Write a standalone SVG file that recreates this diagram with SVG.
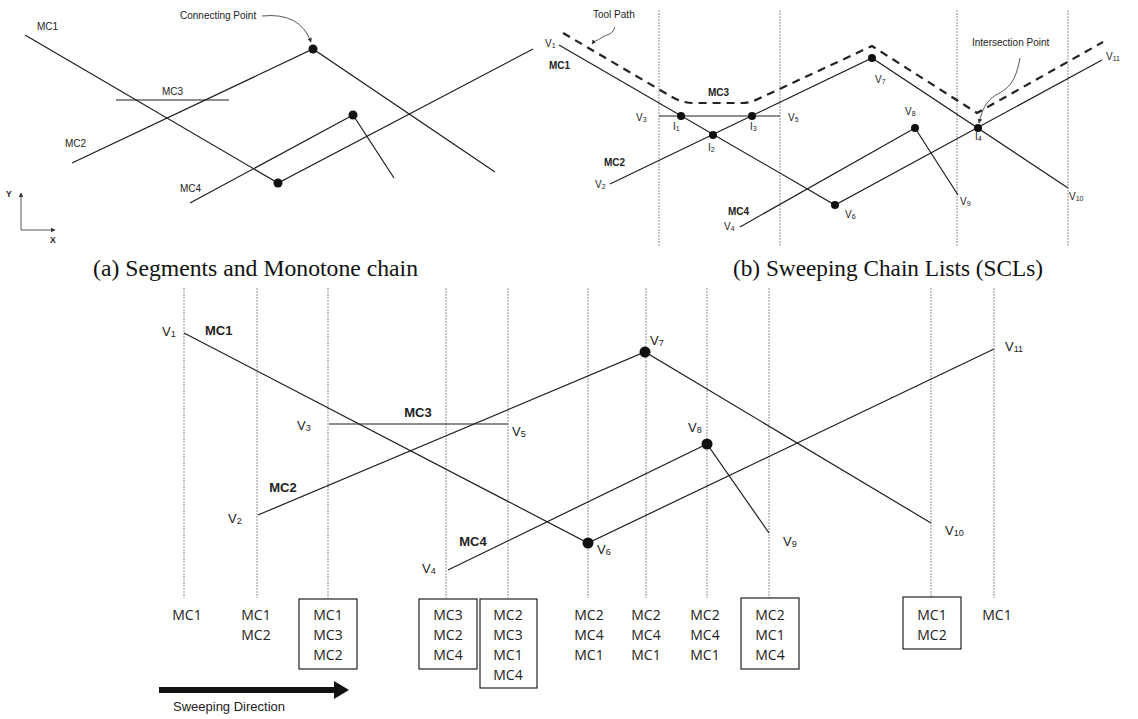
<svg xmlns="http://www.w3.org/2000/svg" width="1138" height="719" viewBox="0 0 1138 719">
<style>
.ln{stroke:#1e1e1e;stroke-width:1.2;fill:none}
.sw{stroke:#9a9a9a;stroke-width:1.1;stroke-dasharray:2 1;fill:none}
.dot{fill:#111}
.t{font-family:"Liberation Sans",Arial,sans-serif;fill:#222}
.s{font-size:10px}
.sa{font-size:10px}
.b{font-weight:bold}
.v{font-size:13px}
.col{font-family:"Open Sans","Liberation Sans",sans-serif;font-size:14px;fill:#222;text-anchor:middle}
.cap{font-family:"Liberation Serif","Times New Roman",serif;font-size:23.5px;fill:#111}
.box{fill:none;stroke:#222;stroke-width:1.2}
.tp{stroke:#222;stroke-width:2.2;stroke-dasharray:8 6;fill:none}
.thin{stroke:#444;stroke-width:0.9;fill:none}
</style>
<defs>
<marker id="ah" viewBox="0 0 10 10" refX="9" refY="5" markerWidth="5" markerHeight="5" orient="auto"><path d="M0,0 L10,5 L0,10 z" fill="#333"/></marker>
</defs>
<rect width="1138" height="719" fill="#fff"/>

<!-- Panel (a) -->
<g id="panel-a">
  <g id="a-connectors">
    <polyline class="ln" points="25,35 278,183 533,49"/>
    <polyline class="ln" points="72,163 313,49 495,172"/>
    <line class="ln" x1="116" y1="100" x2="229" y2="100"/>
    <polyline class="ln" points="190,203 353,115 394,178"/>
    <path class="thin" d="M262,16 Q300,12 311,42" marker-end="url(#ah)"/>
    <line class="thin" x1="21" y1="230" x2="21" y2="193" marker-end="url(#ah)"/>
    <line class="thin" x1="21" y1="230" x2="55" y2="230" marker-end="url(#ah)"/>
  </g>
  <circle class="dot" cx="278" cy="183" r="4.5"/>
  <circle class="dot" cx="313" cy="49" r="4.5"/>
  <circle class="dot" cx="353" cy="115" r="4.5"/>
  <text class="t sa" x="37" y="30">MC1</text>
  <text class="t sa" x="162" y="95">MC3</text>
  <text class="t sa" x="65" y="147">MC2</text>
  <text class="t sa" x="180" y="192">MC4</text>
  <text class="t s" x="180" y="19">Connecting Point</text>
  <text class="t b" font-size="8.5" x="6" y="197">Y</text>
  <text class="t b" font-size="8.5" x="50" y="243">X</text>
  <text class="cap" x="93" y="276" textLength="325" lengthAdjust="spacingAndGlyphs">(a) Segments and Monotone chain</text>
</g>

<!-- Panel (b) -->
<g id="panel-b">
  <g id="b-sweeplines">
    <line class="sw" x1="659" y1="10" x2="659" y2="247"/>
    <line class="sw" x1="780" y1="10" x2="780" y2="247"/>
    <line class="sw" x1="957" y1="10" x2="957" y2="247"/>
    <line class="sw" x1="1068" y1="10" x2="1068" y2="247"/>
  </g>
  <g id="b-connectors">
    <polyline class="ln" points="559,45 835,205 1102,60"/>
    <polyline class="ln" points="610,184 872,58 1068,188"/>
    <line class="ln" x1="659" y1="116" x2="780" y2="116"/>
    <polyline class="ln" points="740,227 915,128 958,195"/>
    <path class="tp" d="M563,33 L672,97 Q682,103 694,103 L742,103 Q750,103 758,99 L872,46 L977,113 L1103,42"/>
    <path class="thin" d="M615,27 C612,36 606,34 601,38 C597,41 595,40 592,44" marker-end="url(#ah)"/>
    <path class="thin" d="M1020,58 C1016,80 1010,88 996,95 C986,101 982,110 979,123" marker-end="url(#ah)"/>
  </g>
  <circle class="dot" cx="681" cy="116" r="4"/>
  <circle class="dot" cx="713" cy="135" r="4"/>
  <circle class="dot" cx="752" cy="116" r="4"/>
  <circle class="dot" cx="835" cy="205" r="4"/>
  <circle class="dot" cx="872" cy="58" r="4"/>
  <circle class="dot" cx="915" cy="128" r="4"/>
  <circle class="dot" cx="978" cy="128" r="4"/>
  <text class="t s" x="545" y="47">V<tspan font-size="7" dy="1">1</tspan></text>
  <text class="t s b" x="549" y="69">MC1</text>
  <text class="t s b" x="708" y="96">MC3</text>
  <text class="t s b" x="604" y="166">MC2</text>
  <text class="t s b" x="728" y="215">MC4</text>
  <text class="t s" x="636" y="121">V<tspan font-size="7" dy="1">3</tspan></text>
  <text class="t s" x="788" y="121">V<tspan font-size="7" dy="1">5</tspan></text>
  <text class="t s" x="595" y="188">V<tspan font-size="7" dy="1">2</tspan></text>
  <text class="t s" x="724" y="230">V<tspan font-size="7" dy="1">4</tspan></text>
  <text class="t s" x="845" y="218">V<tspan font-size="7" dy="1">6</tspan></text>
  <text class="t s" x="875" y="83">V<tspan font-size="7" dy="1">7</tspan></text>
  <text class="t s" x="905" y="115">V<tspan font-size="7" dy="1">8</tspan></text>
  <text class="t s" x="960" y="205">V<tspan font-size="7" dy="1">9</tspan></text>
  <text class="t s" x="1069" y="200">V<tspan font-size="7" dy="1">10</tspan></text>
  <text class="t s" x="1106" y="60">V<tspan font-size="7" dy="1">11</tspan></text>
  <text class="t s" x="673" y="130">I<tspan font-size="7" dy="1">1</tspan></text>
  <text class="t s" x="708" y="151">I<tspan font-size="7" dy="1">2</tspan></text>
  <text class="t s" x="750" y="130">I<tspan font-size="7" dy="1">3</tspan></text>
  <text class="t s" x="975" y="140">I<tspan font-size="7" dy="1">4</tspan></text>
  <text class="t s" x="593" y="18">Tool Path</text>
  <text class="t s" x="972" y="46">Intersection Point</text>
  <text class="cap" x="733" y="276" textLength="310" lengthAdjust="spacingAndGlyphs">(b) Sweeping Chain Lists (SCLs)</text>
</g>

<!-- Bottom panel -->
<g id="panel-c">
  <g id="c-sweeplines">
    <line class="sw" x1="184" y1="288" x2="184" y2="598"/>
    <line class="sw" x1="257" y1="288" x2="257" y2="598"/>
    <line class="sw" x1="328" y1="288" x2="328" y2="598"/>
    <line class="sw" x1="446" y1="288" x2="446" y2="598"/>
    <line class="sw" x1="508" y1="288" x2="508" y2="598"/>
    <line class="sw" x1="588" y1="288" x2="588" y2="598"/>
    <line class="sw" x1="646" y1="288" x2="646" y2="598"/>
    <line class="sw" x1="707" y1="288" x2="707" y2="598"/>
    <line class="sw" x1="769" y1="288" x2="769" y2="598"/>
    <line class="sw" x1="931" y1="288" x2="931" y2="598"/>
    <line class="sw" x1="994" y1="288" x2="994" y2="598"/>
  </g>
  <g id="c-connectors">
    <polyline class="ln" points="184,333 588,543 994,349"/>
    <polyline class="ln" points="258,515 645,352 931,523"/>
    <line class="ln" x1="329" y1="424" x2="508" y2="424"/>
    <polyline class="ln" points="448,570 707,444 769,533"/>
  </g>
  <circle class="dot" cx="588" cy="543" r="5.5"/>
  <circle class="dot" cx="645" cy="352" r="5.5"/>
  <circle class="dot" cx="707" cy="444" r="5.5"/>
  <text class="t b" font-size="13" x="205" y="335">MC1</text>
  <text class="t b" font-size="13" x="418" y="417" text-anchor="middle">MC3</text>
  <text class="t b" font-size="13" x="283" y="492" text-anchor="middle">MC2</text>
  <text class="t b" font-size="13" x="473" y="546" text-anchor="middle">MC4</text>
  <text class="t v" x="162" y="336">V<tspan font-size="9" dy="1">1</tspan></text>
  <text class="t v" x="228" y="523">V<tspan font-size="9" dy="1">2</tspan></text>
  <text class="t v" x="297" y="430">V<tspan font-size="9" dy="1">3</tspan></text>
  <text class="t v" x="512" y="436">V<tspan font-size="9" dy="1">5</tspan></text>
  <text class="t v" x="422" y="573">V<tspan font-size="9" dy="1">4</tspan></text>
  <text class="t v" x="597" y="554">V<tspan font-size="9" dy="1">6</tspan></text>
  <text class="t v" x="650" y="345">V<tspan font-size="9" dy="1">7</tspan></text>
  <text class="t v" x="688" y="432">V<tspan font-size="9" dy="1">8</tspan></text>
  <text class="t v" x="783" y="546">V<tspan font-size="9" dy="1">9</tspan></text>
  <text class="t v" x="945" y="535">V<tspan font-size="9" dy="1">10</tspan></text>
  <text class="t v" x="1005" y="351">V<tspan font-size="9" dy="1">11</tspan></text>

  <g id="scl-1"><text class="col" x="187" y="620">MC1</text></g>
  <g id="scl-2"><text class="col" x="256" y="620">MC1</text><text class="col" x="256" y="640">MC2</text></g>
  <g id="scl-3"><rect class="box" x="299" y="599" width="58" height="70"/><text class="col" x="328" y="620">MC1</text><text class="col" x="328" y="640">MC3</text><text class="col" x="328" y="660">MC2</text></g>
  <g id="scl-4"><rect class="box" x="419" y="599" width="58" height="70"/><text class="col" x="448" y="620">MC3</text><text class="col" x="448" y="640">MC2</text><text class="col" x="448" y="660">MC4</text></g>
  <g id="scl-5"><rect class="box" x="480" y="599" width="57" height="89"/><text class="col" x="508" y="620">MC2</text><text class="col" x="508" y="640">MC3</text><text class="col" x="508" y="660">MC1</text><text class="col" x="508" y="680">MC4</text></g>
  <g id="scl-6"><text class="col" x="589" y="620">MC2</text><text class="col" x="589" y="640">MC4</text><text class="col" x="589" y="660">MC1</text></g>
  <g id="scl-7"><text class="col" x="646" y="620">MC2</text><text class="col" x="646" y="640">MC4</text><text class="col" x="646" y="660">MC1</text></g>
  <g id="scl-8"><text class="col" x="705" y="620">MC2</text><text class="col" x="705" y="640">MC4</text><text class="col" x="705" y="660">MC1</text></g>
  <g id="scl-9"><rect class="box" x="741" y="598" width="58" height="71"/><text class="col" x="770" y="620">MC2</text><text class="col" x="770" y="640">MC1</text><text class="col" x="770" y="660">MC4</text></g>
  <g id="scl-10"><rect class="box" x="903" y="597" width="58" height="52"/><text class="col" x="932" y="620">MC1</text><text class="col" x="932" y="640">MC2</text></g>
  <g id="scl-11"><text class="col" x="997" y="620">MC1</text></g>

  <g id="sweep-arrow">
    <line x1="159" y1="690" x2="336" y2="690" stroke="#111" stroke-width="6"/>
    <polygon points="334,681 349,690 334,699" fill="#111"/>
  </g>
  <text class="t" font-size="13" x="173" y="711">Sweeping Direction</text>
</g>
</svg>
